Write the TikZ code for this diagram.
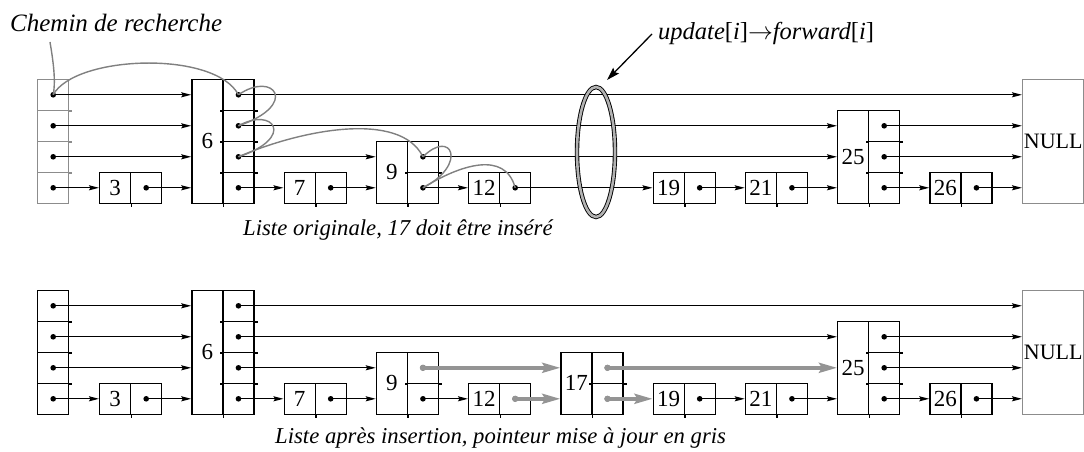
\documentclass[tikz,border=0pt]{standalone}
\usepackage{fontspec}
\setmainfont{Liberation Serif}
\usetikzlibrary{arrows.meta}

\tikzset{
  keybox/.style={draw, line width=1.4pt, anchor=south west, inner sep=0pt, minimum width=31pt, font=\fontsize{23}{23}\selectfont},
  ptrbox/.style={draw, line width=1.4pt, anchor=south west, inner sep=0pt, minimum width=31pt, minimum height=31pt},
  nullbox/.style={draw=black!45, line width=1.4pt, anchor=south west, inner sep=0pt, minimum width=61pt, minimum height=124pt, font=\fontsize{22}{22}\selectfont},
  link/.style={line width=1.3pt, -{Stealth[length=10pt,width=5pt,inset=1.5pt]}},
  newlink/.style={line width=3.5pt, black!42, -{Stealth[length=18pt,width=10pt,inset=3pt]}},
  searchpath/.style={line width=1.4pt, black!50},
  caption/.style={anchor=base west, inner sep=0pt, font=\fontsize{#1}{26}\selectfont\itshape},
  caption/.default=22.7,
}

\begin{document}
\begin{tikzpicture}[x=1pt, y=-1pt]
\useasboundingbox (0,0) rectangle (1084,452);

% both lists: header, nodes and NULL
\foreach \L/\base/\hc in {a/204/black!45, b/415/black} {
  \foreach \l in {1,...,4} {
    \node[ptrbox, draw=\hc] (\L head-\l) at (37,{\base+31-31*\l}) {};
    \fill (\L head-\l) circle (2.8pt);
    \ifnum\l>1 \draw[line width=1.4pt, \hc] (\L head-\l.south east) -- ++(3,0); \fi
  }
  \node[nullbox] (\L null) at (1022,\base) {NULL};
  \foreach \n/\i/\h in {3/0/1, 6/1/4, 7/2/1, 9/3/2, 12/4/1, 17/5/2, 19/6/1, 21/7/1, 25/8/3, 26/9/1} {
    \ifnum\base\n=20417 \else % 17 not inserted yet
      \pgfmathsetmacro\xx{99+92.25*\i}
      \pgfmathsetmacro\hh{31*\h}
      \node[keybox, minimum height=\hh pt] (\L\n) at (\xx,\base) {\n};
      \draw[line width=1.4pt] (\L\n.south east) -- ++(0,3);
      \foreach \l in {1,...,\h} {
        \node[ptrbox] (\L\n-\l) at ({\xx+31},{\base+31-31*\l}) {};
        \fill (\L\n-\l) circle (2.8pt);
        \ifnum\l>1
          \draw[line width=1.4pt] (\L\n-\l.south east) -- ++(3,0);
          \draw[line width=1.4pt] (\L\n-\l.south west) -- ++(-2,0);
        \fi
      }
    \fi
  }
}

\foreach \s/\t in {head-4/6, head-3/6, head-2/6, head-1/3, 3-1/6, 6-4/null, 6-3/25, 6-2/9, 6-1/7, 7-1/9, 9-1/12, 19-1/21, 21-1/25, 25-3/null, 25-2/null, 25-1/26, 26-1/null}
  \foreach \L in {a,b}
    \draw[link] (\L\s.center) -- (\L\s.center -| \L\t.west);
\draw[link] (a9-2.center) -- (a9-2.center -| a25.west);
\draw[link] (a12-1.center) -- (a12-1.center -| a19.west);

% pointers updated by the insertion
\foreach \s/\t in {9-2/17, 12-1/17, 17-2/25, 17-1/19} {
  \draw[newlink] (b\s.center) -- (b\s.center -| b\t.west);
  \fill[black!42] (b\s) circle (3.2pt);
}

% search path
\node[caption=25] (chemin) at (10,32) {Chemin de recherche};
\coordinate (chemin-tail) at (50,42);
\draw[searchpath] (chemin-tail) .. controls (53,60) and (56,80) .. (ahead-4.center);
\draw[searchpath] (ahead-4.center) .. controls (75,55) and (215,50) .. (a6-4.center);
\draw[searchpath] (a6-4.center) .. controls (274,70) and (300,105) .. (a6-3.center);
\draw[searchpath] (a6-3.center) .. controls (274,106) and (296,138) .. (a6-2.center);
\draw[searchpath] (a6-2.center) .. controls (300,130) and (400,110) .. (a9-2.center);
\draw[searchpath] (a9-2.center) .. controls (452,128) and (468,165) .. (a9-1.center);
\draw[searchpath] (a9-1.center) .. controls (460,165) and (505,150) .. (a12-1.center);

% update[i]
\draw[line width=0.9pt, black, double=black!30, double distance=2.6pt] (596,152) ellipse [x radius=19pt, y radius=65pt];
\node[caption=24.5] (update) at (658,40) {update{\upshape[}i{\upshape]}$\rightarrow$forward{\upshape[}i{\upshape]}};
\coordinate (ring-top) at (607,80);
\draw[line width=1.3pt, -{Stealth[length=13pt,width=8pt,inset=2pt]}] ([xshift=-6pt]update.west) -- (ring-top);

\node[caption] (orig) at (243,235) {Liste originale, 17 doit être inséré};
\node[caption] (after) at (275,443) {Liste après insertion, pointeur mise à jour en gris};
\end{tikzpicture}
\end{document}
